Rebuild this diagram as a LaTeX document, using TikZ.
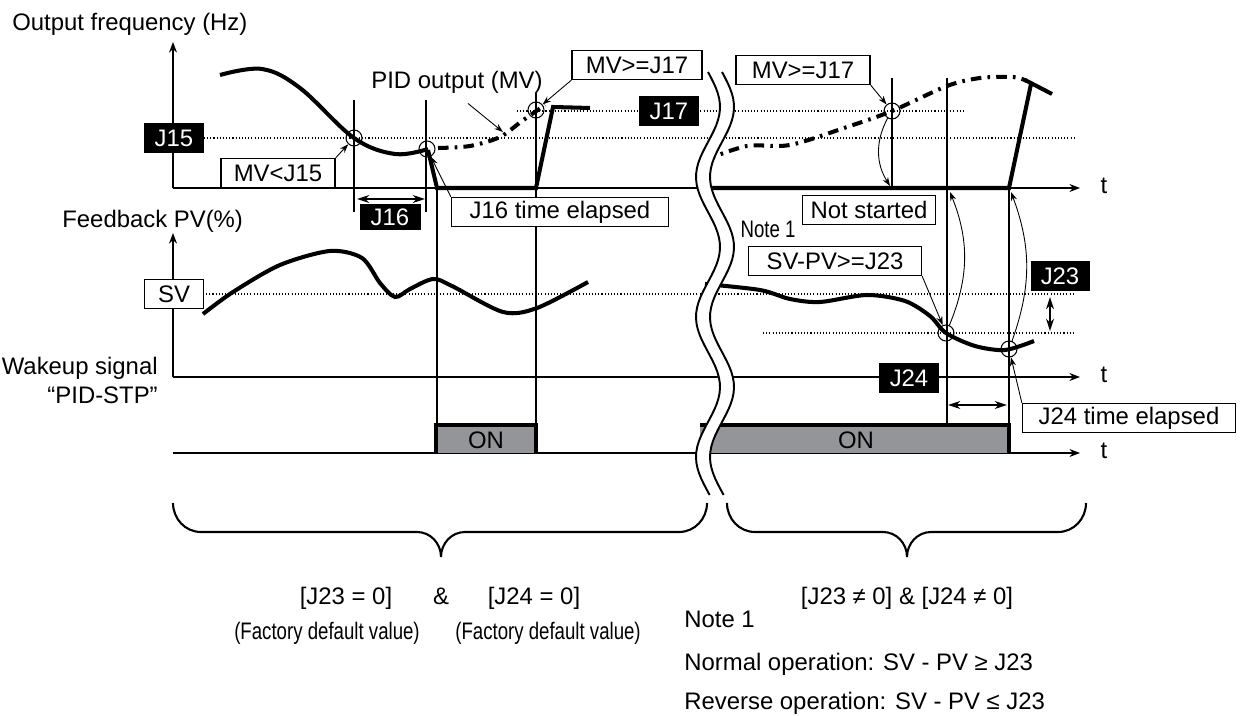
\documentclass[tikz,border=0pt]{standalone}
\usepackage{fontspec}
\setmainfont{Liberation Sans}
\newfontfamily\narrowfont[FakeStretch=0.78]{Liberation Sans}
\usetikzlibrary{arrows.meta}
\definecolor{ongray}{HTML}{939598}
\tikzset{
  lab/.style={font=\fontsize{13.6}{16.5}\selectfont, text=black, inner sep=0pt},
  narrow/.style={font=\narrowfont\fontsize{13.6}{16.5}\selectfont},
  box/.style={lab, draw, line width=0.8pt, fill=white, minimum height=0.58cm},
  tag/.style={lab, fill=black, text=white, minimum height=0.6cm},
  ring/.style={circle, draw, line width=0.6pt, minimum size=0.32cm, inner sep=0pt},
  axis/.style={line width=1.1pt, -{Stealth[length=6pt,width=4.5pt]}},
  freq/.style={line width=2.3pt},
  mvline/.style={line width=2.3pt, dash pattern=on 6pt off 3.5pt on 1.5pt off 3.5pt},
  guide/.style={line width=0.6pt, dash pattern=on 0.6pt off 1.2pt},
  marker/.style={line width=0.9pt},
  callout/.style={line width=0.5pt, -{Stealth[length=5pt,width=3.5pt]}},
  span/.style={line width=0.9pt, {Stealth[length=7pt,width=4.5pt]}-{Stealth[length=7pt,width=4.5pt]}},
  brace/.style={line width=1.2pt},
}
\begin{document}
\begin{tikzpicture}[x=0.02cm,y=-0.02cm]
  \useasboundingbox (0,0) rectangle (1243,716);

  %assi
  \node[lab, anchor=base west] (freqlabel) at (12,31) {Output frequency (Hz)};
  \node[lab, anchor=base west] (pvlabel) at (62,227) {Feedback PV(\%)};
  \node[lab, align=right, anchor=north east] (wakelabel) at (158,357) {Wakeup signal\\“PID-STP”};
  \draw[axis] (173,188) -- (173,42);
  \draw[axis] (173,188) -- (1080,188);
  \node[lab] (t1) at (1104,186) {t};
  \draw[axis] (173,377) -- (173,233);
  \draw[axis] (173,377) -- (1080,377);
  \node[lab] (t2) at (1104,375) {t};
  \draw[axis] (173,453) -- (1080,453);
  \node[lab] (t3) at (1104,451) {t};

  %soglie
  \draw[guide] (204,138) -- (1075,138);
  \draw[guide] (517,111) -- (965,111);
  \draw[guide] (203,294) -- (1074,294);
  \draw[guide] (763,333) -- (1074,333);

  %istanti
  \draw[marker] (354,100) -- (354,212);
  \draw[marker] (426,100) -- (426,212);
  \draw[marker] (437,188) -- (437,425);
  \draw[marker] (536,93) -- (536,425);
  \draw[marker] (892,78) -- (892,188);
  \draw[marker] (947,78) -- (947,425);
  \draw[marker] (1009,188) -- (1009,453);

  %frequenza di uscita
  \draw[freq] plot[smooth, tension=0.6] coordinates {(220,75) (262,69) (300,88) (354,138) (395,154) (428,149)};
  \draw[freq] (428,150) -- (437,188) -- (536,188) -- (553,107) -- (590,108);
  \draw[freq] (705,188) -- (1009,188) -- (1031,84);
  \draw[freq] (1025,80) -- (1052,94);

  %uscita PID (MV)
  \draw[mvline] plot[smooth] coordinates {(438,148) (470,146) (500,137) (522,121) (545,105)};
  \draw[mvline] plot[smooth] coordinates {(705,160) (747,146) (790,145) (847,127) (892,111) (947,86) (980,78) (1013,77) (1027,81)};

  %retroazione PV
  \draw[freq] plot[smooth] coordinates {(203,314) (233,292) (280,265) (330,251) (362,258) (380,283) (395,297) (410,289) (433,279) (452,286) (503,312) (537,308) (588,282)};
  \draw[freq] plot[smooth] coordinates {(705,284) (760,290) (790,299) (820,302) (867,295) (905,301) (930,316) (946,333) (975,346) (1005,350) (1034,341)};

  %segnale PID-STP
  \fill[ongray] (436,425) rectangle (536,453);
  \draw[line width=1.8pt] (436,453) -- (436,425) -- (536,425) -- (536,453);
  \node[lab] (on1) at (486,440) {ON};
  \fill[ongray] (700,425) rectangle (1009,453);
  \draw[line width=1.8pt] (700,425) -- (1009,425) -- (1009,453);
  \node[lab] (on2) at (856,440) {ON};

  %interruzione
  \fill[white] plot[domain=72:495, samples=80] ({708+12*sin(2.5714*(\x-72))}, \x)
    -- plot[domain=495:72, samples=80] ({722+12*sin(2.5714*(\x-72))}, \x) -- cycle;
  \draw[line width=1.1pt] plot[domain=72:495, samples=80] ({708+12*sin(2.5714*(\x-72))}, \x);
  \draw[line width=1.1pt] plot[domain=72:495, samples=80] ({722+12*sin(2.5714*(\x-72))}, \x);

  %parametri
  \node[tag, minimum width=1.2cm] (j15) at (174,138) {J15};
  \node[tag, minimum width=1.2cm] (j17) at (669,111) {J17};
  \node[tag, minimum width=1.22cm, minimum height=0.52cm] (j16) at (390,217) {J16};
  \node[tag, minimum width=1.18cm] (j23) at (1060,276) {J23};
  \node[tag, minimum width=1.2cm] (j24) at (909,378) {J24};
  \node[box, minimum width=1.18cm] (sv) at (174,294) {SV};

  %punti di scatto
  \node[ring] (c15) at (354,138) {};
  \node[ring] (c16) at (427,149) {};
  \node[ring] (c17) at (536,110) {};
  \node[ring] (c17b) at (892,111) {};
  \node[ring] (c23) at (946,333) {};
  \node[ring] (c24) at (1009,349) {};

  %didascalie
  \node[box, minimum width=2.28cm] (mvlow) at (278,173) {MV<J15};
  \node[box, minimum width=2.6cm] (mvhigh) at (637,65) {MV>=J17};
  \node[box, minimum width=2.68cm] (mvhighb) at (803,70) {MV>=J17};
  \node[box, minimum width=4.34cm] (j16done) at (560,212) {J16 time elapsed};
  \node[box, minimum width=2.66cm] (notstart) at (869,210) {Not started};
  \node[box, minimum width=3.46cm] (svpv) at (835,261) {SV-PV>=J23};
  \node[box, minimum width=4.26cm] (j24done) at (1129,418) {J24 time elapsed};
  \node[lab] (pidout) at (457,82) {PID output (MV)};
  \node[lab, narrow] (notea) at (768,229) {Note 1};

  \draw[callout] (mvlow.north east) -- (c15);
  \draw[callout] (j16done.north west) -- (c16);
  \draw[callout] (mvhigh.south west) -- (c17);
  \draw[callout] (mvhighb.south east) -- (c17b);
  \draw[callout] (svpv.south east) -- (c23);
  \draw[callout] (j24done.north west) -- (c24);
  \coordinate (mvpt) at (503,132);
  \draw[callout] ([shift={(11,10)}]pidout.south) -- (mvpt);

  %frecce curve verso l'asse
  \coordinate (a1) at (890,186);
  \coordinate (a2) at (950,192);
  \coordinate (a3) at (1011,192);
  \draw[callout] (c17b) to[bend right=30] (a1);
  \draw[callout] (c23) to[bend right=22] (a2);
  \draw[callout] (c24) to[bend right=20] (a3);

  %intervalli
  \coordinate (s16a) at (357,199);
  \coordinate (s16b) at (425,199);
  \coordinate (s24a) at (948,405);
  \coordinate (s24b) at (1007,405);
  \coordinate (s23a) at (1050,297);
  \coordinate (s23b) at (1050,331);
  \draw[span] (s16a) -- (s16b);
  \draw[span] (s24a) -- (s24b);
  \draw[span] (s23a) -- (s23b);

  %casi
  \draw[brace] (173,503) to[out=-90,in=180] (201,532) -- (417,532) to[out=0,in=90] (441,557)
    to[out=90,in=180] (465,532) -- (679,532) to[out=0,in=-90] (707,503);
  \draw[brace] (727,503) to[out=-90,in=180] (755,532) -- (883,532) to[out=0,in=90] (907,557)
    to[out=90,in=180] (931,532) -- (1058,532) to[out=0,in=-90] (1086,503);
  \node[lab, anchor=base] (j23zero) at (346,604) {[J23 = 0]};
  \node[lab, anchor=base] (amp) at (441,604) {\&};
  \node[lab, anchor=base] (j24zero) at (534,604) {[J24 = 0]};
  \node[lab, narrow, anchor=base] (fdva) at (327,639) {(Factory default value)};
  \node[lab, narrow, anchor=base] (fdvb) at (548,639) {(Factory default value)};
  \node[lab, anchor=base] (nonzero) at (907,604) {[J23 ≠ 0] \& [J24 ≠ 0]};

  %nota 1
  \node[lab, anchor=base west] (noteb) at (684,627) {Note 1};
  \node[lab, anchor=base west] (normal) at (684,670) {Normal operation: SV - PV ≥ J23};
  \node[lab, anchor=base west] (reverse) at (684,709) {Reverse operation: SV - PV ≤ J23};
\end{tikzpicture}
\end{document}
